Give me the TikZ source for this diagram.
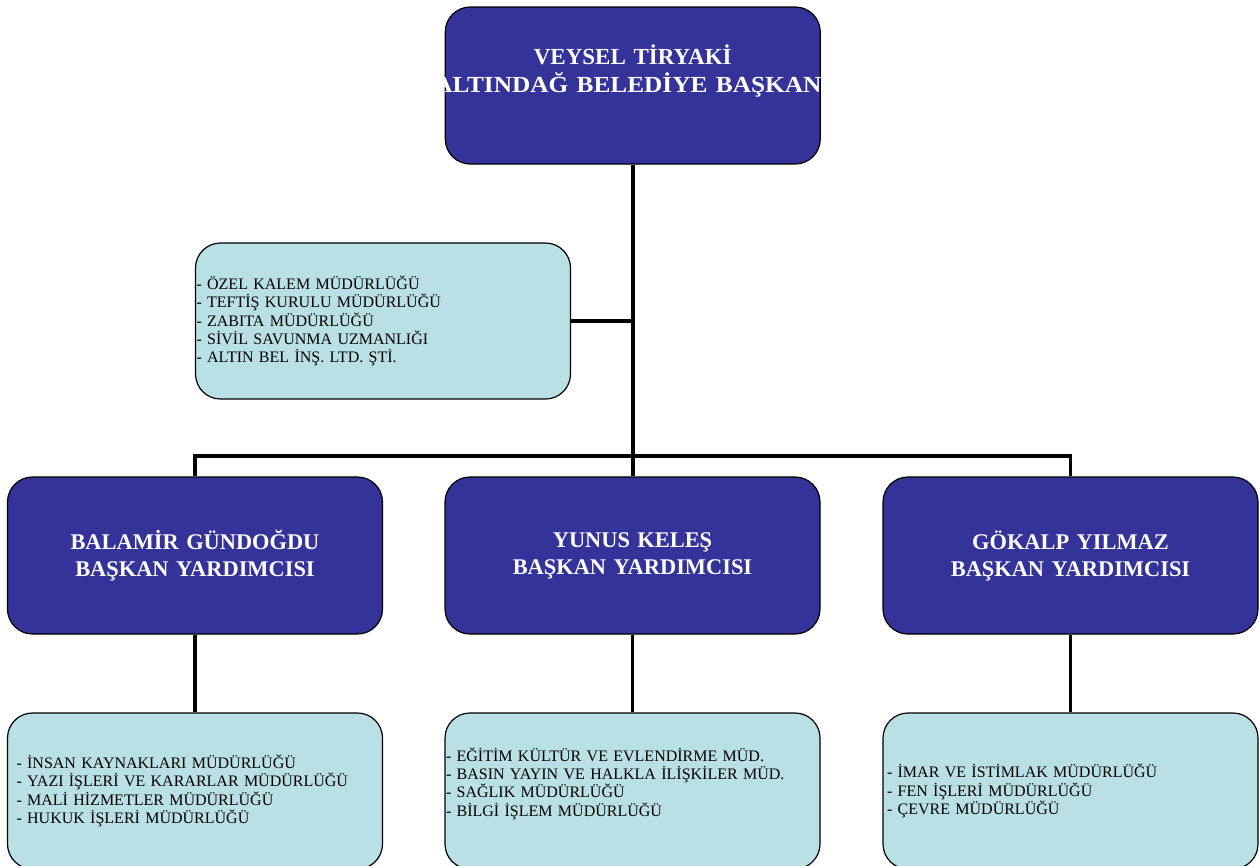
\documentclass[tikz,border=0pt]{standalone}
\usepackage{fontspec}
\setmainfont{Liberation Serif}
\usetikzlibrary{positioning}
\definecolor{chiefblue}{RGB}{51,51,153}
\definecolor{unitblue}{RGB}{185,224,228}
\tikzset{
  head/.style={draw=black, line width=1.2pt, fill=chiefblue, rounded corners=25pt,
    minimum width=375pt, minimum height=157pt, text=white, align=center,
    text width=355pt, font=\bfseries\fontsize{22.4}{27}\selectfont},
  unit/.style={draw=black, line width=1.2pt, fill=unitblue, rounded corners=25pt,
    minimum width=375pt, minimum height=156pt, inner xsep=1pt, text width=373pt,
    align=left, font=\fontsize{16}{18.3}\selectfont},
  link/.style={line width=3.5pt, black}
}
\begin{document}
\begin{tikzpicture}[x=1pt, y=-1pt]
\useasboundingbox (0,0) rectangle (1260,865);
\node[head, font=\bfseries\fontsize{23}{28}\selectfont] (mayor) at (632.75,85.5) {VEYSEL TİRYAKİ\\\makebox[355pt]{\scalebox{1.1}[1]{ALTINDAĞ BELEDİYE BAŞKANI}}\\[6pt]\mbox{}};
\node[unit] (staff) at (383,321) {- ÖZEL KALEM MÜDÜRLÜĞÜ\\- TEFTİŞ KURULU MÜDÜRLÜĞÜ\\- ZABITA MÜDÜRLÜĞÜ\\- SİVİL SAVUNMA UZMANLIĞI\\- ALTIN BEL İNŞ. LTD. ŞTİ.};
\node[head] (vp1) at (195,555.5) {BALAMİR GÜNDOĞDU\\BAŞKAN YARDIMCISI};
\node[head] (vp2) at (632.5,555.5) {YUNUS KELEŞ\\BAŞKAN YARDIMCISI};
\node[head] (vp3) at (1070.5,555.5) {GÖKALP YILMAZ\\BAŞKAN YARDIMCISI};
\node[unit, inner xsep=9pt, text width=357pt] (dept1) at (195,791) {- İNSAN KAYNAKLARI MÜDÜRLÜĞÜ\\- YAZI İŞLERİ VE KARARLAR MÜDÜRLÜĞÜ\\- MALİ HİZMETLER MÜDÜRLÜĞÜ\\- HUKUK İŞLERİ MÜDÜRLÜĞÜ};
\node[unit] (dept2) at (632.5,791) {- EĞİTİM KÜLTÜR VE EVLENDİRME MÜD.\\- BASIN YAYIN VE HALKLA İLİŞKİLER MÜD.\\- SAĞLIK MÜDÜRLÜĞÜ\\- BİLGİ İŞLEM MÜDÜRLÜĞÜ\\\mbox{}};
\node[unit, inner xsep=4pt, text width=367pt] (dept3) at (1070.5,791) {- İMAR VE İSTİMLAK MÜDÜRLÜĞÜ\\- FEN İŞLERİ MÜDÜRLÜĞÜ\\- ÇEVRE MÜDÜRLÜĞÜ};
\coordinate (bus) at (632.5,456);
\draw[link] (mayor.south) -- (mayor.south |- vp2.north);
\draw[link] (staff.east) -- (staff.east -| mayor.south);
\draw[link] (vp1.north) -- (vp1.north |- bus) -- (vp3.north |- bus) -- (vp3.north);
\foreach \i in {1,2,3} {
  \draw[link] (vp\i.south) -- (dept\i.north);
}
\end{tikzpicture}
\end{document}
